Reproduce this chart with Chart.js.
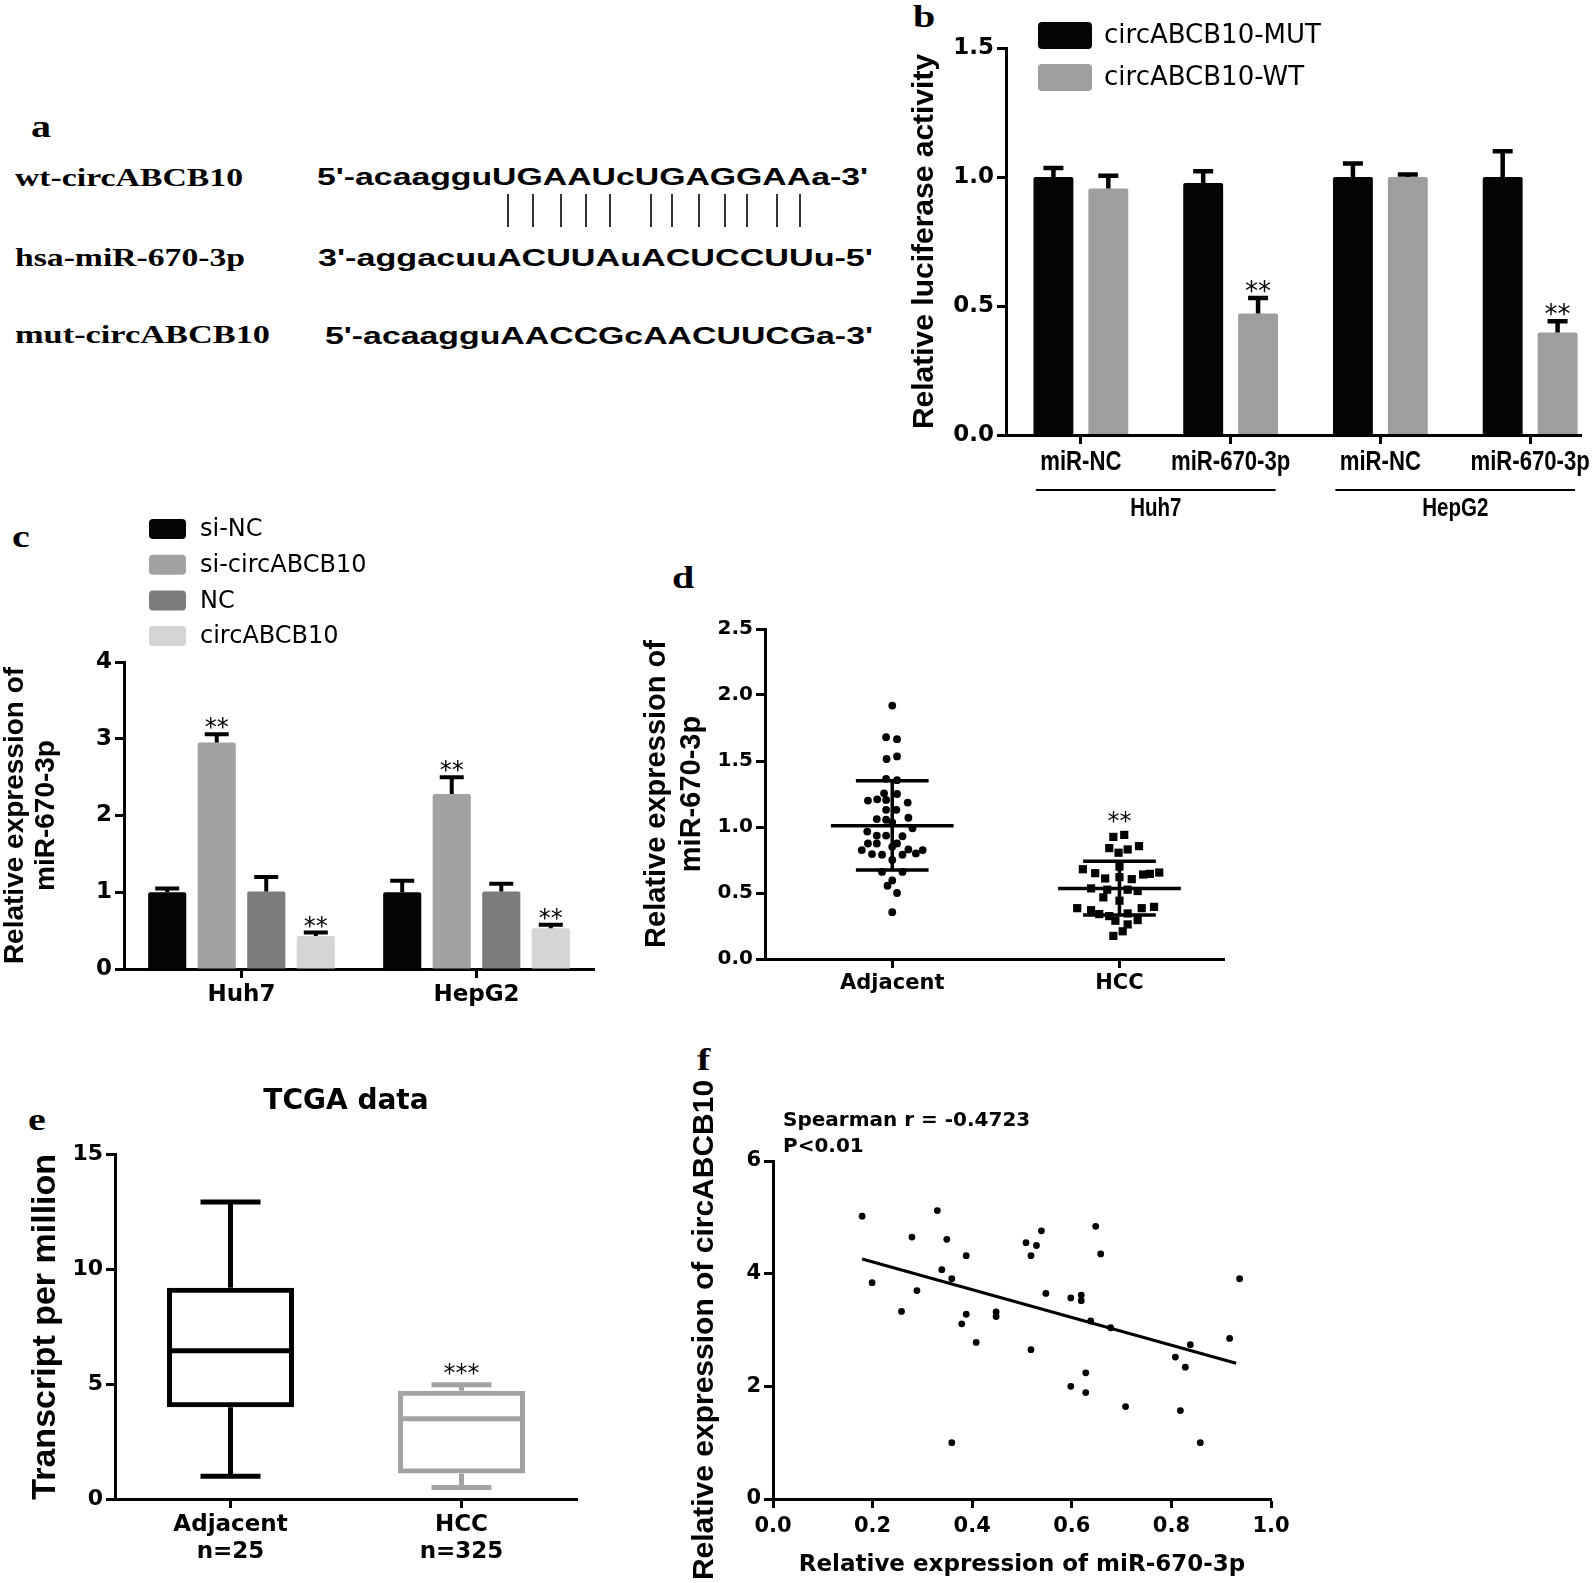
<!DOCTYPE html>
<html>
<head>
<meta charset="utf-8">
<script src="https://cdn.jsdelivr.net/npm/chart.js@4.4.0/dist/chart.umd.min.js"></script>
<style>
html, body { margin: 0; padding: 0; background: #fff; }
body { width: 1595px; height: 1583px; position: relative; overflow: hidden; }
.wrap { position: absolute; overflow: hidden; }
canvas { position: absolute; left: 0; top: 0; }
.lbl { position: absolute; white-space: nowrap; transform-origin: 0 0; line-height: 1; color: #000; }
.letter { font-family: 'Liberation Serif', 'Times New Roman', serif; font-weight: bold; font-size: 32px; transform: scaleX(1.25); }
.name { font-family: 'Liberation Serif', 'Times New Roman', serif; font-weight: bold; font-size: 26px; }
.seq { font-family: 'Liberation Sans', Arial, sans-serif; font-weight: bold; font-size: 24px; }
.pair { position: absolute; top: 194px; height: 33px; width: 1.5px; background: #333; }
</style>
</head>
<body>

<!-- panel letters -->
<div class="lbl letter" style="left:31px;top:110px">a</div>
<div class="lbl letter" style="left:913px;top:0px">b</div>
<div class="lbl letter" style="left:12px;top:520px">c</div>
<div class="lbl letter" style="left:672px;top:561px">d</div>
<div class="lbl letter" style="left:28px;top:1103px">e</div>
<div class="lbl letter" style="left:697px;top:1043px">f</div>

<!-- panel a: sequence alignment -->
<div class="lbl name" data-w="228" style="left:15px;top:165px">wt-circABCB10</div>
<div class="lbl name" data-w="230" style="left:15px;top:245px">hsa-miR-670-3p</div>
<div class="lbl name" data-w="255" style="left:15px;top:322px">mut-circABCB10</div>
<div class="lbl seq" data-w="551" style="left:317px;top:165px">5'-acaagguUGAAUcUGAGGAAa-3'</div>
<div class="lbl seq" data-w="555" style="left:318px;top:246px">3'-aggacuuACUUAuACUCCUUu-5'</div>
<div class="lbl seq" data-w="548" style="left:325px;top:324px">5'-acaagguAACCGcAACUUCGa-3'</div>
<div id="pairs"></div>

<div class="wrap" style="left:905px;top:0px;width:690px;height:525px"><canvas id="chartB" width="700" height="525"></canvas></div>
<div class="wrap" style="left:0px;top:500px;width:620px;height:510px"><canvas id="chartC" width="620" height="510"></canvas></div>
<div class="wrap" style="left:640px;top:600px;width:600px;height:410px"><canvas id="chartD" width="600" height="410"></canvas></div>
<div class="wrap" style="left:24px;top:1060px;width:654px;height:523px"><canvas id="chartE" width="654" height="523"></canvas></div>
<div class="wrap" style="left:685px;top:1040px;width:615px;height:543px"><canvas id="chartF" width="615" height="543"></canvas></div>

<script>
// ---- panel a: x positions of the base-pairing ticks
const pairX = [507, 532, 560, 585, 609, 650, 671, 698, 724, 746, 776, 799];

// ---- panel b: luciferase reporter
const lucLabels = ['miR-NC', 'miR-670-3p', 'miR-NC', 'miR-670-3p'];
const lucCells = ['Huh7', 'HepG2'];
const lucMut = [1.0, 0.977, 1.0, 1.0];
const lucMutErr = [0.035, 0.045, 0.052, 0.10];
const lucWt = [0.955, 0.471, 1.0, 0.397];
const lucWtErr = [0.05, 0.06, 0.01, 0.044];
const lucWtStars = ['', '**', '', '**'];

// ---- panel c: miR-670-3p expression
const exprCells = ['Huh7', 'HepG2'];
const exprSiNC = [1.0, 1.0];
const exprSiNCErr = [0.05, 0.15];
const exprSiCirc = [2.95, 2.28];
const exprSiCircErr = [0.11, 0.22];
const exprNC = [1.01, 1.01];
const exprNCErr = [0.19, 0.10];
const exprCirc = [0.43, 0.53];
const exprCircErr = [0.045, 0.045];

// ---- panel d: tissue scatter (x jitter)
const tissueGroups = ['Adjacent', 'HCC'];
const adjOffset = [0, -0.027, 0.021, -0.025, 0.021, -0.027, 0.021, -0.036, 0.021, -0.066, -0.107, -0.027, 0.068, -0.027, 0.018, 0.071, -0.068, -0.027, 0, 0.089, -0.11, -0.068, -0.027, 0.045, -0.107, -0.068, 0.021, 0, -0.134, 0.134, 0.071, 0.104, -0.089, -0.045, 0.045, 0, -0.045, 0.045, 0, -0.021, 0.021, 0];
const adjValue = [1.92, 1.68, 1.665, 1.515, 1.535, 1.365, 1.355, 1.255, 1.25, 1.21, 1.2, 1.205, 1.185, 1.13, 1.13, 1.07, 1.06, 1.055, 1.035, 0.99, 0.965, 0.935, 0.935, 0.93, 0.875, 0.875, 0.875, 0.85, 0.825, 0.825, 0.83, 0.8, 0.795, 0.79, 0.79, 0.75, 0.66, 0.66, 0.595, 0.555, 0.5, 0.355];
const hccOffset = [0.021, -0.027, 0.086, -0.045, 0.036, -0.004, -0.161, -0.107, 0, 0.134, 0.175, -0.063, 0, 0.054, 0.104, -0.125, -0.054, 0.036, 0.080, -0.071, 0, -0.186, -0.125, 0.152, 0.098, -0.089, -0.045, 0.036, -0.018, 0.080, 0.036, 0.014, -0.027];
const hccValue = [0.94, 0.925, 0.855, 0.84, 0.83, 0.805, 0.68, 0.65, 0.70, 0.645, 0.655, 0.61, 0.62, 0.605, 0.64, 0.535, 0.525, 0.525, 0.515, 0.467, 0.442, 0.385, 0.37, 0.395, 0.385, 0.34, 0.325, 0.345, 0.29, 0.295, 0.262, 0.21, 0.175];
const tissueMean = [1.01, 0.535];
const tissueSdLow = [0.675, 0.333];
const tissueSdHigh = [1.35, 0.74];

// ---- panel e: TCGA box plot
const tcgaLabels = [['Adjacent', 'n=25'], ['HCC', 'n=325']];
const tcgaMin = [0.99, 0.5];
const tcgaQ1 = [4.0, 1.11];
const tcgaMedian = [6.46, 3.49];
const tcgaQ3 = [9.2, 4.72];
const tcgaMax = [12.94, 4.98];

// ---- panel f: correlation
const corrX = [0.179, 0.330, 0.279, 0.349, 0.388, 0.339, 0.359, 0.199, 0.289, 0.258, 0.388, 0.379, 0.408, 0.448, 0.448, 0.359, 0.508, 0.529, 0.539, 0.518, 0.548, 0.518, 0.598, 0.619, 0.619, 0.648, 0.658, 0.638, 0.678, 0.628, 0.598, 0.628, 0.708, 0.808, 0.838, 0.828, 0.818, 0.858, 0.917, 0.937];
const corrY = [5.02, 5.12, 4.65, 4.61, 4.32, 4.07, 3.91, 3.84, 3.70, 3.33, 3.28, 3.11, 2.78, 3.32, 3.24, 1.0, 4.55, 4.50, 4.76, 4.32, 3.65, 2.65, 3.57, 3.62, 3.52, 4.84, 4.35, 3.16, 3.04, 2.24, 2.00, 1.89, 1.64, 2.52, 2.74, 2.34, 1.57, 1.0, 2.85, 3.91];
const fitLine = [[0.179, 4.26], [0.93, 2.41]];

// fonts
const DV = "'DejaVu Sans', sans-serif";
const LS = "'Liberation Sans', Arial, sans-serif";

Chart.defaults.font.family = DV;
Chart.defaults.color = '#000';
Chart.defaults.animation = false;
Chart.defaults.responsive = false;
Chart.defaults.plugins.legend.display = false;
Chart.defaults.plugins.tooltip.enabled = false;

// base-pair ticks in panel a
const pairs = document.getElementById('pairs');
pairX.forEach(x => {
    const d = document.createElement('div');
    d.className = 'pair';
    d.style.left = x + 'px';
    pairs.appendChild(d);
});
// stretch the alignment text to the measured widths
document.querySelectorAll('[data-w]').forEach(el => {
    const w = el.getBoundingClientRect().width;
    el.style.transform = 'scaleX(' + (parseFloat(el.dataset.w) / w) + ')';
});

// axis look shared by all panels
function axis(extra) {
    const base = {
        border: { display: true, color: '#000', width: 3 },
        grid: { display: true, drawOnChartArea: false, drawTicks: true, tickLength: 9, tickWidth: 3, tickColor: '#000', offset: false },
        ticks: { color: '#000', padding: 3, autoSkip: false, maxRotation: 0 }
    };
    for (const k in extra) {
        base[k] = (typeof extra[k] === 'object' && !Array.isArray(extra[k]) && base[k]) ? Object.assign({}, base[k], extra[k]) : extra[k];
    }
    return base;
}

// condensed text: squeeze a normal font horizontally
function narrowText(ctx, text, x, y, font, squeeze) {
    ctx.save();
    ctx.translate(x, y);
    ctx.scale(squeeze, 1);
    ctx.font = font;
    ctx.fillStyle = '#000';
    ctx.textAlign = 'center';
    ctx.textBaseline = 'middle';
    ctx.fillText(text, 0, 0);
    ctx.restore();
}

// upward error bars + significance stars
const errorBars = {
    id: 'errorBars',
    afterDatasetsDraw(chart, args, o) {
        const ctx = chart.ctx, ys = chart.scales.y;
        chart.data.datasets.forEach((ds, i) => {
            if (!ds.errors) return;
            chart.getDatasetMeta(i).data.forEach((bar, j) => {
                const top = ys.getPixelForValue(ds.data[j] + ds.errors[j]);
                ctx.save();
                ctx.strokeStyle = '#000';
                ctx.lineWidth = o.lineWidth;
                ctx.beginPath();
                ctx.moveTo(bar.x, bar.y);
                ctx.lineTo(bar.x, top);
                ctx.moveTo(bar.x - o.cap, top);
                ctx.lineTo(bar.x + o.cap, top);
                ctx.stroke();
                if (ds.stars && ds.stars[j]) {
                    ctx.fillStyle = '#000';
                    ctx.font = o.starFont;
                    ctx.textAlign = 'center';
                    ctx.textBaseline = 'alphabetic';
                    ctx.fillText(ds.stars[j], bar.x, top + o.starDy);
                }
                ctx.restore();
            });
        });
    }
};

// legend of rounded swatches, one per row
const boxLegend = {
    id: 'boxLegend',
    afterDraw(chart, args, o) {
        const ctx = chart.ctx;
        chart.data.datasets.forEach((ds, i) => {
            const y = o.y + i * o.step;
            ctx.save();
            ctx.fillStyle = ds.backgroundColor;
            ctx.beginPath();
            ctx.roundRect(o.x, y, o.w, o.h, 4);
            ctx.fill();
            ctx.fillStyle = '#000';
            ctx.font = o.font;
            ctx.textAlign = 'left';
            ctx.textBaseline = 'middle';
            ctx.fillText(ds.label, o.x + o.textDx, y + o.h / 2 + 1);
            ctx.restore();
        });
    }
};

// x baseline, condensed tick labels and cell-line brackets under panel b
const cellBrackets = {
    id: 'cellBrackets',
    afterDraw(chart, args, o) {
        const ctx = chart.ctx, xs = chart.scales.x, area = chart.chartArea;
        ctx.save();
        ctx.strokeStyle = '#000';
        ctx.lineWidth = 3;
        ctx.beginPath();
        ctx.moveTo(area.left - 1.5, area.bottom + 0.5);
        ctx.lineTo(o.axisEnd, area.bottom + 0.5);
        ctx.stroke();
        ctx.restore();
        xs.ticks.forEach((t, i) => {
            narrowText(ctx, xs.getLabelForValue(t.value), xs.getPixelForTick(i), o.labelY, o.labelFont, o.squeeze);
        });
        lucCells.forEach((name, k) => {
            const a = xs.getPixelForTick(2 * k) - o.pad;
            const b = xs.getPixelForTick(2 * k + 1) + o.pad;
            ctx.save();
            ctx.strokeStyle = '#000';
            ctx.lineWidth = 2;
            ctx.beginPath();
            ctx.moveTo(a, o.y);
            ctx.lineTo(b, o.y);
            ctx.stroke();
            ctx.restore();
            narrowText(ctx, name, (a + b) / 2, o.textY, o.cellFont, o.squeeze);
        });
    }
};

// ---------------- panel b
new Chart(document.getElementById('chartB'), {
    type: 'bar',
    data: {
        labels: lucLabels,
        datasets: [
            { label: 'circABCB10-MUT', data: lucMut, errors: lucMutErr, backgroundColor: '#050505' },
            { label: 'circABCB10-WT', data: lucWt, errors: lucWtErr, stars: lucWtStars, backgroundColor: '#9e9e9e' }
        ]
    },
    options: {
        layout: { padding: { top: 48, right: 0, left: 0, bottom: 0 } },
        datasets: { bar: { categoryPercentage: 0.733, barPercentage: 0.727, borderRadius: 2 } },
        scales: {
            x: axis({
                border: { display: false },
                ticks: { color: 'rgba(0,0,0,0)', font: { family: LS, size: 22, weight: 'bold' } },
                afterFit: s => { s.height = 90; }
            }),
            y: axis({
                min: 0, max: 1.5,
                ticks: { stepSize: 0.5, font: { size: 23, weight: 'bold' }, callback: v => v.toFixed(1) },
                title: { display: true, text: 'Relative luciferase activity', font: { family: LS, size: 30, weight: 'bold' }, padding: { top: 2, bottom: 0 } },
                afterFit: s => { s.width = 101; }
            })
        },
        plugins: {
            errorBars: { lineWidth: 4.5, cap: 10, starFont: '26px ' + DV, starDy: 2 },
            boxLegend: { x: 133, y: 22, w: 54, h: 27, step: 42, textDx: 66, font: '26px ' + DV },
            cellBrackets: { axisEnd: 677, pad: 45, y: 490, textY: 509, labelY: 463, squeeze: 0.82, labelFont: 'bold 27px ' + LS, cellFont: 'bold 25px ' + LS }
        }
    },
    plugins: [errorBars, boxLegend, cellBrackets]
});

// ---------------- panel c
new Chart(document.getElementById('chartC'), {
    type: 'bar',
    data: {
        labels: exprCells,
        datasets: [
            { label: 'si-NC', data: exprSiNC, errors: exprSiNCErr, backgroundColor: '#050505' },
            { label: 'si-circABCB10', data: exprSiCirc, errors: exprSiCircErr, stars: ['**', '**'], backgroundColor: '#a2a2a2' },
            { label: 'NC', data: exprNC, errors: exprNCErr, backgroundColor: '#7c7c7c' },
            { label: 'circABCB10', data: exprCirc, errors: exprCircErr, stars: ['**', '**'], backgroundColor: '#d5d5d5' }
        ]
    },
    options: {
        layout: { padding: { top: 162, right: 26, left: 0, bottom: 0 } },
        datasets: { bar: { categoryPercentage: 0.843, barPercentage: 0.77, borderRadius: 2 } },
        scales: {
            x: axis({
                ticks: { font: { size: 23, weight: 'bold' } },
                afterFit: s => { s.height = 41; }
            }),
            y: axis({
                min: 0, max: 4,
                ticks: { stepSize: 1, font: { size: 23, weight: 'bold' } },
                title: { display: true, text: ['Relative expression of', 'miR-670-3p'], font: { family: LS, size: 28, weight: 'bold', lineHeight: 1.1 }, padding: { top: 0, bottom: 0 } },
                afterFit: s => { s.width = 124; }
            })
        },
        plugins: {
            errorBars: { lineWidth: 4, cap: 12, starFont: '24px ' + DV, starDy: 1 },
            boxLegend: { x: 149, y: 19, w: 37, h: 20, step: 35.7, textDx: 51, font: '24px ' + DV }
        }
    },
    plugins: [errorBars, boxLegend]
});

// ---------------- panel d
const meanSd = {
    id: 'meanSd',
    afterDatasetsDraw(chart) {
        const ctx = chart.ctx, xs = chart.scales.x, ys = chart.scales.y;
        ctx.save();
        ctx.strokeStyle = '#000';
        ctx.lineWidth = 3.5;
        tissueMean.forEach((m, g) => {
            const xm = xs.getPixelForValue(g);
            ctx.beginPath();
            ctx.moveTo(xs.getPixelForValue(g - 0.27), ys.getPixelForValue(m));
            ctx.lineTo(xs.getPixelForValue(g + 0.27), ys.getPixelForValue(m));
            [tissueSdLow[g], tissueSdHigh[g]].forEach(v => {
                ctx.moveTo(xs.getPixelForValue(g - 0.16), ys.getPixelForValue(v));
                ctx.lineTo(xs.getPixelForValue(g + 0.16), ys.getPixelForValue(v));
            });
            ctx.moveTo(xm, ys.getPixelForValue(tissueSdLow[g]));
            ctx.lineTo(xm, ys.getPixelForValue(tissueSdHigh[g]));
            ctx.stroke();
        });
        ctx.fillStyle = '#000';
        ctx.font = '24px ' + DV;
        ctx.textAlign = 'center';
        ctx.fillText('**', xs.getPixelForValue(1), ys.getPixelForValue(Math.max(...hccValue)) - 6);
        ctx.restore();
    }
};

new Chart(document.getElementById('chartD'), {
    type: 'scatter',
    data: {
        datasets: [
            { label: 'Adjacent', data: adjValue.map((v, i) => ({ x: adjOffset[i], y: v })), pointStyle: 'circle', pointRadius: 3.9, backgroundColor: '#000', borderWidth: 0 },
            { label: 'HCC', data: hccValue.map((v, i) => ({ x: 1 + hccOffset[i], y: v })), pointStyle: 'rect', pointRadius: 5.8, backgroundColor: '#000', borderWidth: 0 }
        ]
    },
    options: {
        layout: { padding: { top: 29, right: 16, left: 0, bottom: 0 } },
        scales: {
            x: axis({
                type: 'linear', min: -0.56, max: 1.46,
                afterBuildTicks: s => { s.ticks = [{ value: 0 }, { value: 1 }]; },
                ticks: { font: { size: 21, weight: 'bold' }, callback: v => tissueGroups[v] },
                afterFit: s => { s.height = 51; }
            }),
            y: axis({
                min: 0, max: 2.5,
                ticks: { stepSize: 0.5, font: { size: 20, weight: 'bold' }, callback: v => v.toFixed(1) },
                title: { display: true, text: ['Relative expression of', 'miR-670-3p'], font: { family: LS, size: 29, weight: 'bold', lineHeight: 1.2 }, padding: { top: 0, bottom: 0 } },
                afterFit: s => { s.width = 125; }
            })
        }
    },
    plugins: [meanSd]
});

// ---------------- panel e
const whiskers = {
    id: 'whiskers',
    afterDatasetsDraw(chart) {
        const ctx = chart.ctx, ys = chart.scales.y;
        const colors = chart.data.datasets[0].borderColor;
        chart.getDatasetMeta(0).data.forEach((bar, i) => {
            const half = bar.width / 2 - 2;
            ctx.save();
            ctx.strokeStyle = colors[i];
            ctx.lineWidth = 5;
            ctx.beginPath();
            ctx.moveTo(bar.x - half, ys.getPixelForValue(tcgaMedian[i]));
            ctx.lineTo(bar.x + half, ys.getPixelForValue(tcgaMedian[i]));
            ctx.moveTo(bar.x, ys.getPixelForValue(tcgaQ3[i]));
            ctx.lineTo(bar.x, ys.getPixelForValue(tcgaMax[i]));
            ctx.moveTo(bar.x - 30, ys.getPixelForValue(tcgaMax[i]));
            ctx.lineTo(bar.x + 30, ys.getPixelForValue(tcgaMax[i]));
            ctx.moveTo(bar.x, ys.getPixelForValue(tcgaQ1[i]));
            ctx.lineTo(bar.x, ys.getPixelForValue(tcgaMin[i]));
            ctx.moveTo(bar.x - 30, ys.getPixelForValue(tcgaMin[i]));
            ctx.lineTo(bar.x + 30, ys.getPixelForValue(tcgaMin[i]));
            ctx.stroke();
            ctx.restore();
        });
        ctx.save();
        ctx.fillStyle = '#000';
        ctx.font = '24px ' + DV;
        ctx.textAlign = 'center';
        const m = chart.getDatasetMeta(0).data[1];
        ctx.fillText('***', m.x, ys.getPixelForValue(tcgaMax[1]) - 4);
        ctx.restore();
    }
};

new Chart(document.getElementById('chartE'), {
    type: 'bar',
    data: {
        labels: tcgaLabels,
        datasets: [{
            label: 'TCGA',
            data: tcgaQ1.map((q, i) => [q, tcgaQ3[i]]),
            backgroundColor: 'rgba(0,0,0,0)',
            borderColor: ['#000000', '#a3a3a3'],
            borderWidth: 5,
            borderSkipped: false,
            categoryPercentage: 1,
            barPercentage: 0.55
        }]
    },
    options: {
        layout: { padding: { top: 25, right: 101, left: 0, bottom: 0 } },
        scales: {
            x: axis({
                ticks: { font: { size: 23, weight: 'bold', lineHeight: 1.2 } },
                afterFit: s => { s.height = 84; }
            }),
            y: axis({
                min: 0, max: 15,
                ticks: { stepSize: 5, font: { size: 22, weight: 'bold' } },
                title: { display: true, text: 'Transcript per million', font: { family: LS, size: 34, weight: 'bold' }, padding: { top: 1, bottom: 0 } },
                afterFit: s => { s.width = 91; }
            })
        },
        plugins: {
            title: { display: true, text: 'TCGA data', fullSize: false, font: { size: 28, weight: 'bold' }, color: '#000', padding: { top: 0, bottom: 36 } }
        }
    },
    plugins: [whiskers]
});

// ---------------- panel f
const corrNote = {
    id: 'corrNote',
    afterDraw(chart) {
        const ctx = chart.ctx;
        ctx.save();
        ctx.fillStyle = '#000';
        ctx.font = 'bold 20px ' + DV;
        ctx.textAlign = 'left';
        ctx.textBaseline = 'middle';
        ctx.fillText('Spearman r = -0.4723', 98, 81);
        ctx.fillText('P<0.01', 98, 107);
        ctx.restore();
    }
};

new Chart(document.getElementById('chartF'), {
    type: 'scatter',
    data: {
        datasets: [
            { label: 'samples', data: corrX.map((x, i) => ({ x: x, y: corrY[i] })), pointRadius: 3.4, backgroundColor: '#000', borderWidth: 0 },
            { type: 'line', label: 'fit', data: fitLine.map(p => ({ x: p[0], y: p[1] })), borderColor: '#000', borderWidth: 3, pointRadius: 0, showLine: true, fill: false }
        ]
    },
    options: {
        layout: { padding: { top: 121, right: 29, left: 0, bottom: 0 } },
        scales: {
            x: axis({
                type: 'linear', min: 0, max: 1,
                ticks: { stepSize: 0.2, padding: 6, font: { size: 21, weight: 'bold' }, callback: v => v.toFixed(1) },
                title: { display: true, text: 'Relative expression of miR-670-3p', font: { size: 23, weight: 'bold' }, padding: { top: 0, bottom: 4 } },
                afterFit: s => { s.height = 84; }
            }),
            y: axis({
                min: 0, max: 6,
                ticks: { stepSize: 2, font: { size: 21, weight: 'bold' } },
                title: { display: true, text: 'Relative expression of circABCB10', font: { family: LS, size: 30, weight: 'bold' }, padding: { top: 2, bottom: 0 } },
                afterFit: s => { s.width = 88; }
            })
        }
    },
    plugins: [corrNote]
});
</script>
</body>
</html>
